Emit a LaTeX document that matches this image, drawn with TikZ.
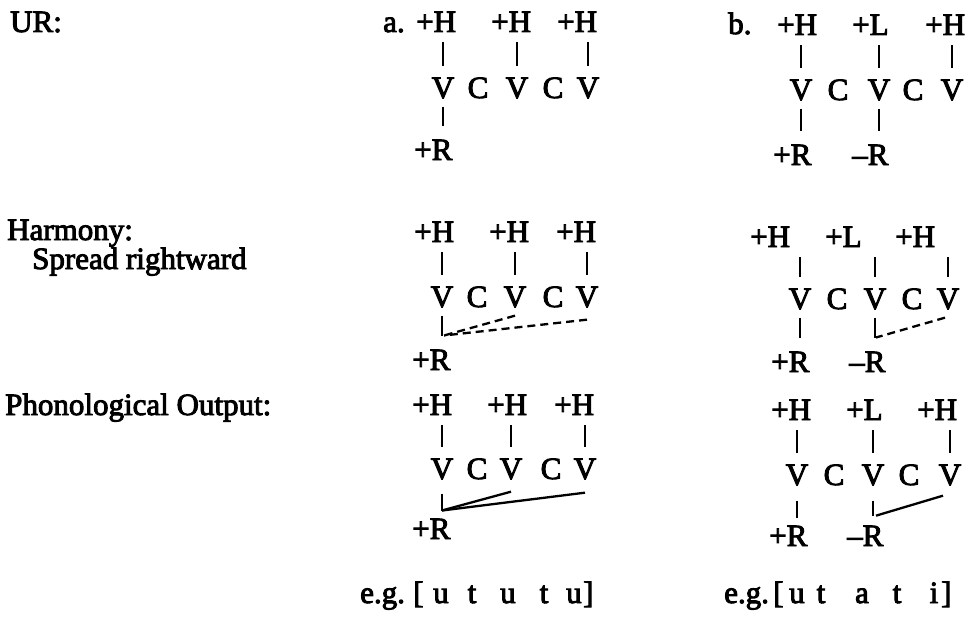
\documentclass[tikz,border=0pt]{standalone}
\usepackage{fontspec}
\setmainfont{Liberation Serif}
\newfontfamily\scanfont{Liberation Serif}[FakeBold=3]
\usetikzlibrary{calc}
\begin{document}
\begin{tikzpicture}[x=1pt,y=-1pt,
  txt/.style={inner sep=0pt,anchor=base west,font=\scanfont\fontsize{31}{36}\selectfont},
  seg/.style={inner sep=0pt,anchor=base,font=\scanfont\fontsize{31}{36}\selectfont},
  up/.style={line width=2.4pt,shorten <=12pt,shorten >=10pt},
  down/.style={line width=2.4pt,shorten <=8pt,shorten >=14pt},
  assoc/.style={line width=2.3pt},
  spread/.style={line width=2.3pt,dash pattern=on 8pt off 5pt}]
\useasboundingbox (0,0) rectangle (970,634);

% ---------- row labels ----------
\node[txt] (lur) at (10,32) {UR:};
\node[txt] (lharm) at (7,240) {Harmony:};
\node[txt] (lspread) at (32,269) {Spread rightward};
\node[txt] (lout) at (5,415) {Phonological Output:};

% ---------- UR, a ----------
\node[txt] (la) at (383,32) {a.};
\node[txt] (a1h1) at (416,32) {+H};
\node[txt] (a1h2) at (491,32) {+H};
\node[txt] (a1h3) at (557,32) {+H};
\node[seg] (a1v1) at (443,98) {V};
\node[seg] (a1c1) at (478,98) {C};
\node[seg] (a1v2) at (517,98) {V};
\node[seg] (a1c2) at (553,98) {C};
\node[seg] (a1v3) at (588,98) {V};
\node[txt] (a1r) at (414,160) {+R};
\draw[up] (a1v1.north) -- (a1v1.north |- a1h1.south);
\draw[up] (a1v2.north) -- (a1v2.north |- a1h2.south);
\draw[up] (a1v3.north) -- (a1v3.north |- a1h3.south);
\draw[down] (a1v1.south) -- (a1v1.south |- a1r.north);

% ---------- UR, b ----------
\node[txt] (lb) at (728,34) {b.};
\node[txt] (b1h1) at (777,35) {+H};
\node[txt] (b1l) at (852,35) {+L};
\node[txt] (b1h3) at (925,35) {+H};
\node[seg] (b1v1) at (801,100) {V};
\node[seg] (b1c1) at (838,100) {C};
\node[seg] (b1v2) at (879,100) {V};
\node[seg] (b1c2) at (913,100) {C};
\node[seg] (b1v3) at (952,100) {V};
\node[txt] (b1r1) at (773,165) {+R};
\node[txt] (b1r2) at (852,165) {–R};
\draw[up] (b1v1.north) -- (b1v1.north |- b1h1.south);
\draw[up] (b1v2.north) -- (b1v2.north |- b1l.south);
\draw[up] (b1v3.north) -- (b1v3.north |- b1h3.south);
\draw[down] (b1v1.south) -- (b1v1.south |- b1r1.north);
\draw[down] (b1v2.south) -- (b1v2.south |- b1r2.north);

% ---------- Harmony, a ----------
\node[txt] (a2h1) at (414,242) {+H};
\node[txt] (a2h2) at (489,242) {+H};
\node[txt] (a2h3) at (556,242) {+H};
\node[seg] (a2v1) at (442,307) {V};
\node[seg] (a2c1) at (477,307) {C};
\node[seg] (a2v2) at (515,307) {V};
\node[seg] (a2c2) at (553,307) {C};
\node[seg] (a2v3) at (587,307) {V};
\node[txt] (a2r) at (412,370) {+R};
\draw[up] (a2v1.north) -- (a2v1.north |- a2h1.south);
\draw[up] (a2v2.north) -- (a2v2.north |- a2h2.south);
\draw[up] (a2v3.north) -- (a2v3.north |- a2h3.south);
\draw[down] (a2v1.south) -- (a2v1.south |- a2r.north);
\coordinate (a2j) at ($(a2v1.south |- a2r.north)+(2pt,14pt)$);
\draw[spread] ($(a2v2.south)+(0,-8pt)$) -- (a2j);
\draw[spread] ($(a2v3.south)+(0,-12pt)$) -- (a2j);

% ---------- Harmony, b ----------
\node[txt] (b2h1) at (750,247) {+H};
\node[txt] (b2l) at (825,247) {+L};
\node[txt] (b2h3) at (895,247) {+H};
\node[seg] (b2v1) at (800,309) {V};
\node[seg] (b2c1) at (837,309) {C};
\node[seg] (b2v2) at (875,309) {V};
\node[seg] (b2c2) at (912,309) {C};
\node[seg] (b2v3) at (948,309) {V};
\node[txt] (b2r1) at (771,372) {+R};
\node[txt] (b2r2) at (849,372) {–R};
\draw[up] (b2v1.north) -- (b2v1.north |- b2h1.south);
\draw[up] (b2v2.north) -- (b2v2.north |- b2l.south);
\draw[up] (b2v3.north) -- (b2v3.north |- b2h3.south);
\draw[down] (b2v1.south) -- (b2v1.south |- b2r1.north);
\draw[down] (b2v2.south) -- (b2v2.south |- b2r2.north);
\coordinate (b2j) at ($(b2v2.south |- b2r2.north)+(1pt,14pt)$);
\draw[spread] ($(b2v3.south)+(-3pt,-8pt)$) -- (b2j);

% ---------- Output, a ----------
\node[txt] (a3h1) at (412,415) {+H};
\node[txt] (a3h2) at (487,415) {+H};
\node[txt] (a3h3) at (554,415) {+H};
\node[seg] (a3v1) at (442,479) {V};
\node[seg] (a3c1) at (477,479) {C};
\node[seg] (a3v2) at (511,479) {V};
\node[seg] (a3c2) at (551,479) {C};
\node[seg] (a3v3) at (585,479) {V};
\node[txt] (a3r) at (412,539) {+R};
\draw[up] (a3v1.north) -- (a3v1.north |- a3h1.south);
\draw[up] (a3v2.north) -- (a3v2.north |- a3h2.south);
\draw[up] (a3v3.north) -- (a3v3.north |- a3h3.south);
\coordinate (a3j) at ($(a3v1.south |- a3r.north)+(0,8pt)$);
\draw[assoc,line width=2.4pt] ($(a3v1.south)+(0,-14pt)$) -- (a3j);
\draw[assoc] ($(a3v2.south)+(0,-12pt)$) -- (a3j);
\draw[assoc] ($(a3v3.south)+(0,-13pt)$) -- (a3j);

% ---------- Output, b ----------
\node[txt] (b3h1) at (771,420) {+H};
\node[txt] (b3l) at (846,420) {+L};
\node[txt] (b3h3) at (917,420) {+H};
\node[seg] (b3v1) at (797,485) {V};
\node[seg] (b3c1) at (834,485) {C};
\node[seg] (b3v2) at (873,485) {V};
\node[seg] (b3c2) at (909,485) {C};
\node[seg] (b3v3) at (950,485) {V};
\node[txt] (b3r1) at (769,546) {+R};
\node[txt] (b3r2) at (847,546) {–R};
\draw[up] (b3v1.north) -- (b3v1.north |- b3h1.south);
\draw[up] (b3v2.north) -- (b3v2.north |- b3l.south);
\draw[up] (b3v3.north) -- (b3v3.north |- b3h3.south);
\draw[line width=2.4pt,shorten <=15pt,shorten >=8pt] (b3v1.south) -- (b3v1.south |- b3r1.north);
\coordinate (b3j) at ($(b3v2.south)+(0,-30pt)$);
\draw[line width=2.4pt] ($(b3v2.south)+(0,-15pt)$) -- (b3j);
\draw[assoc] ($(b3v3.south)+(-7pt,-10pt)$) -- ($(b3j)+(3pt,0)$);

% ---------- examples ----------
\node[txt] (ega) at (360,603) {e.g.};
\node[txt] (ega0) at (413,603) {[};
\node[seg] (ega1) at (441,603) {u};
\node[seg] (ega2) at (472,603) {t};
\node[seg] (ega3) at (508,603) {u};
\node[seg] (ega4) at (544,603) {t};
\node[seg] (ega5) at (574,603) {u};
\node[txt] (ega6) at (583,603) {]};

\node[txt] (egb) at (724,603) {e.g.};
\node[txt] (egb0) at (773,603) {[};
\node[seg] (egb1) at (797,603) {u};
\node[seg] (egb2) at (821,603) {t};
\node[seg] (egb3) at (862,603) {a};
\node[seg] (egb4) at (897,603) {t};
\node[seg] (egb5) at (934,603) {i};
\node[txt] (egb6) at (941,603) {]};
\end{tikzpicture}
\end{document}
